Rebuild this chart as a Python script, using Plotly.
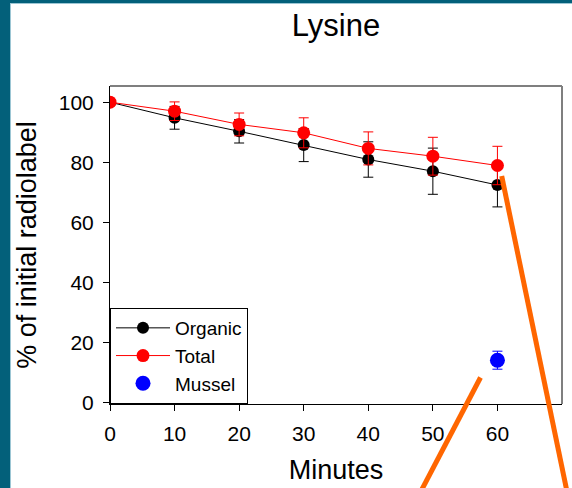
import plotly.graph_objects as go

# ---- data ----
minutes = [0, 10, 20, 30, 40, 50, 60]
organic = [100, 94.8, 90.3, 85.7, 80.9, 77.0, 72.4]
organic_err = [0, 3.8, 3.9, 5.5, 5.9, 7.7, 7.3]
total = [100, 97.0, 92.6, 89.8, 84.6, 82.0, 78.9]
total_err = [0, 3.1, 3.8, 5.0, 5.5, 6.3, 6.4]
mussel_x = [60]
mussel = [14.0]
mussel_err = [3.0]
x_ticks = [0, 10, 20, 30, 40, 50, 60]
y_ticks = [0, 20, 40, 60, 80, 100]

W, H = 572, 488
L, R, T, B = 110, 10, 86, 84
PW, PH = W - L - R, H - T - B


def px(x):
    return (x - L) / PW


def py(y):
    return (H - B - y) / PH


FONT = "Liberation Sans, Arial, sans-serif"

fig = go.Figure()
fig.add_trace(go.Scatter(
    x=minutes, y=organic, name="Organic", mode="lines+markers",
    line=dict(color="black", width=1),
    marker=dict(color="black", size=12),
    error_y=dict(type="data", array=organic_err, color="black", thickness=1, width=5),
))
fig.add_trace(go.Scatter(
    x=minutes, y=total, name="Total", mode="lines+markers",
    line=dict(color="red", width=1),
    marker=dict(color="red", size=13),
    error_y=dict(type="data", array=total_err, color="red", thickness=1, width=5),
))
fig.add_trace(go.Scatter(
    x=mussel_x, y=mussel, name="Mussel", mode="markers",
    marker=dict(color="blue", size=15),
    error_y=dict(type="data", array=mussel_err, color="blue", thickness=1, width=5),
))

shapes = [
    # teal frame bands
    dict(type="rect", xref="paper", yref="paper", x0=px(-5), x1=px(10), y0=py(H + 5), y1=py(-5),
         fillcolor="#03607A", line=dict(width=0), layer="below"),
    dict(type="rect", xref="paper", yref="paper", x0=px(-5), x1=px(W + 5), y0=py(3), y1=py(-5),
         fillcolor="#03607A", line=dict(width=0), layer="below"),
    dict(type="line", xref="paper", yref="paper", x0=px(10.5), x1=px(10.5), y0=py(3), y1=py(H + 5),
         line=dict(color="#9cc6d4", width=1)),
    dict(type="line", xref="paper", yref="paper", x0=px(10), x1=px(W + 5), y0=py(3.5), y1=py(3.5),
         line=dict(color="#9cc6d4", width=1)),
    # grey top / right plot frame
    dict(type="line", xref="paper", yref="paper", x0=0, x1=1, y0=1, y1=1,
         line=dict(color="#7f7f7f", width=2)),
    dict(type="line", xref="paper", yref="paper", x0=1, x1=1, y0=0, y1=1,
         line=dict(color="#7f7f7f", width=2)),
    # orange callout lines
    dict(type="line", xref="paper", yref="paper", x0=px(501.7), y0=py(176), x1=px(567.5), y1=py(494),
         line=dict(color="#FF6600", width=5)),
    dict(type="line", xref="paper", yref="paper", x0=px(480.5), y0=py(377.5), x1=px(419.5), y1=py(494),
         line=dict(color="#FF6600", width=5)),
]

fig.update_layout(
    width=W, height=H,
    margin=dict(l=L, r=R, t=T, b=B),
    paper_bgcolor="white", plot_bgcolor="white",
    font=dict(family=FONT, color="black", size=21),
    title=dict(text="Lysine", xref="container", x=336 / W, xanchor="center",
               yref="container", y=1 - 25 / H, yanchor="middle",
               font=dict(size=31, family=FONT, color="black")),
    showlegend=True,
    legend=dict(x=0, y=0, xanchor="left", yanchor="bottom", bgcolor="white",
                bordercolor="black", borderwidth=1, font=dict(size=19, family=FONT),
                tracegroupgap=0, itemwidth=54),
    shapes=shapes,
)
fig.update_xaxes(range=[0, 70], tickvals=x_ticks, ticks="outside", ticklen=6, tickwidth=1,
                 tickcolor="black", showline=True, linecolor="black", linewidth=1,
                 showgrid=False, zeroline=False, ticklabelstandoff=5,
                 title=dict(text="Minutes", font=dict(size=27, family=FONT), standoff=15),
                 tickfont=dict(size=21))
fig.update_yaxes(range=[-0.6, 105.4], tickvals=y_ticks, ticks="outside", ticklen=6, tickwidth=1,
                 tickcolor="black", showline=True, linecolor="black", linewidth=1,
                 showgrid=False, zeroline=False, ticklabelstandoff=5,
                 title=dict(text="% of initial radiolabel", font=dict(size=27, family=FONT), standoff=14),
                 tickfont=dict(size=21))

fig.write_html("out.html", config={"displayModeBar": False},
               post_script="document.body.style.margin='0';document.body.style.overflow='hidden';")
